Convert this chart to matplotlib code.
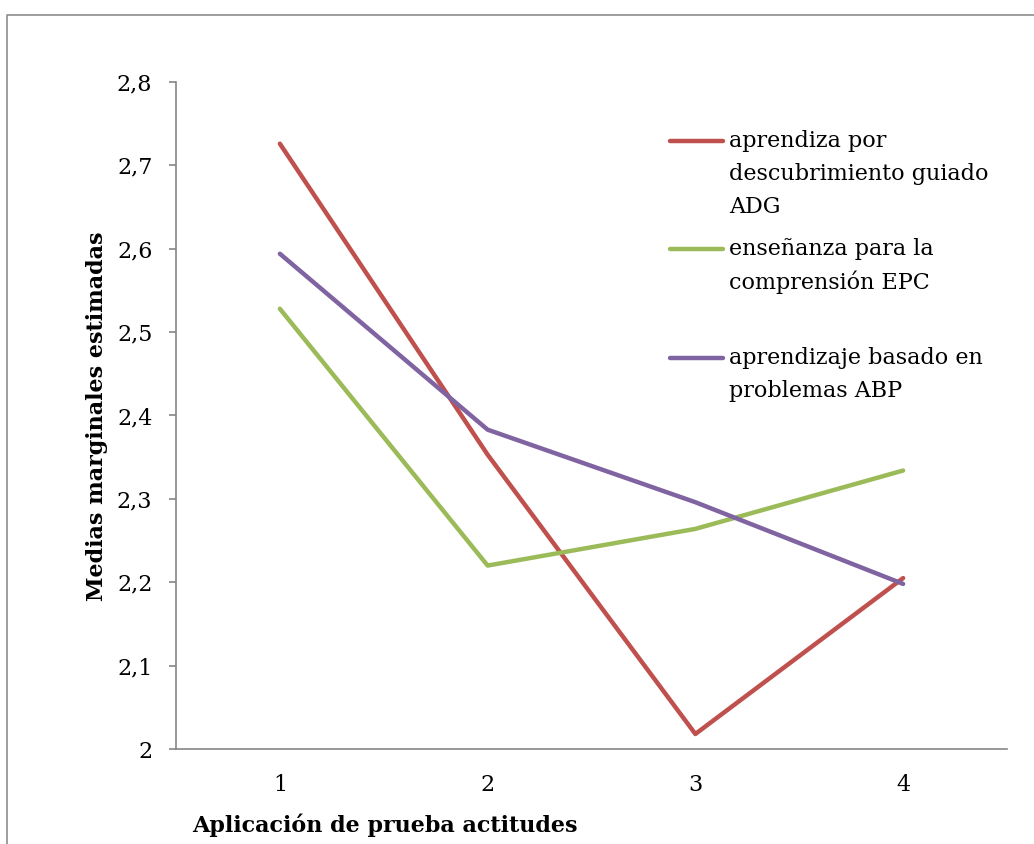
import matplotlib.pyplot as plt
from matplotlib.lines import Line2D
from matplotlib.ticker import FuncFormatter

# estimated marginal means per test application
aplicaciones = [1, 2, 3, 4]
adg = [2.726, 2.353, 2.018, 2.205]
epc = [2.528, 2.220, 2.264, 2.334]
abp = [2.594, 2.383, 2.296, 2.198]

series = [
    (adg, '#C0504D', 'aprendiza por\ndescubrimiento guiado\nADG'),
    (epc, '#9BBB59', 'enseñanza para la\ncomprensión EPC'),
    (abp, '#8064A2', 'aprendizaje basado en\nproblemas ABP'),
]
y_ticks = [2.0, 2.1, 2.2, 2.3, 2.4, 2.5, 2.6, 2.7, 2.8]

plt.rcParams['font.family'] = ['DejaVu Serif']
FS = 16
W, H = 1034, 844
fig = plt.figure(figsize=(W / 100, H / 100), dpi=100)
ax = fig.add_axes([176 / W, 1 - 749 / H, 831 / W, 667 / H])

for vals, color, _ in series:
    ax.plot(aplicaciones, vals, color=color, lw=3.2,
            solid_capstyle='round', solid_joinstyle='round')

ax.set_xlim(0.5, 4.5)
ax.set_ylim(2.0, 2.8)
ax.set_xticks(aplicaciones)
ax.set_yticks(y_ticks)


def coma(v, pos):
    s = ('%.1f' % v).replace('.', ',')
    return '2' if s == '2,0' else s


ax.yaxis.set_major_formatter(FuncFormatter(coma))
for side in ('top', 'right'):
    ax.spines[side].set_visible(False)
for side in ('left', 'bottom'):
    ax.spines[side].set_color('#868686')
    ax.spines[side].set_linewidth(1.2)
ax.tick_params(axis='y', length=5, width=1.2, color='#868686',
               labelsize=FS, pad=12)
ax.tick_params(axis='x', length=0, labelsize=FS, pad=18)

fig.text(97 / W, 1 - 416 / H, 'Medias marginales estimadas', rotation=90,
         ha='center', va='center', fontsize=FS, fontweight='bold')
fig.text(192 / W, 1 - 825 / H, 'Aplicación de prueba actitudes',
         ha='left', va='center', fontsize=FS, fontweight='bold')

# legend drawn by hand: uneven spacing between entries
entry_y = [141, 249, 358]
pitch = 33
for (vals, color, label), y0 in zip(series, entry_y):
    fig.add_artist(Line2D([670 / W, 723 / W], [1 - y0 / H] * 2, color=color,
                          lw=3.2, solid_capstyle='round'))
    for i, line in enumerate(label.split('\n')):
        fig.text(729 / W, 1 - (y0 + i * pitch) / H, line,
                 ha='left', va='center', fontsize=FS)

# outer frame (top and left edges)
fig.add_artist(Line2D([7 / W, 7 / W, 1], [0, 1 - 15 / H, 1 - 15 / H],
                      color='#8c8c8c', lw=1.2))

fig.savefig('out.png', dpi=100)
